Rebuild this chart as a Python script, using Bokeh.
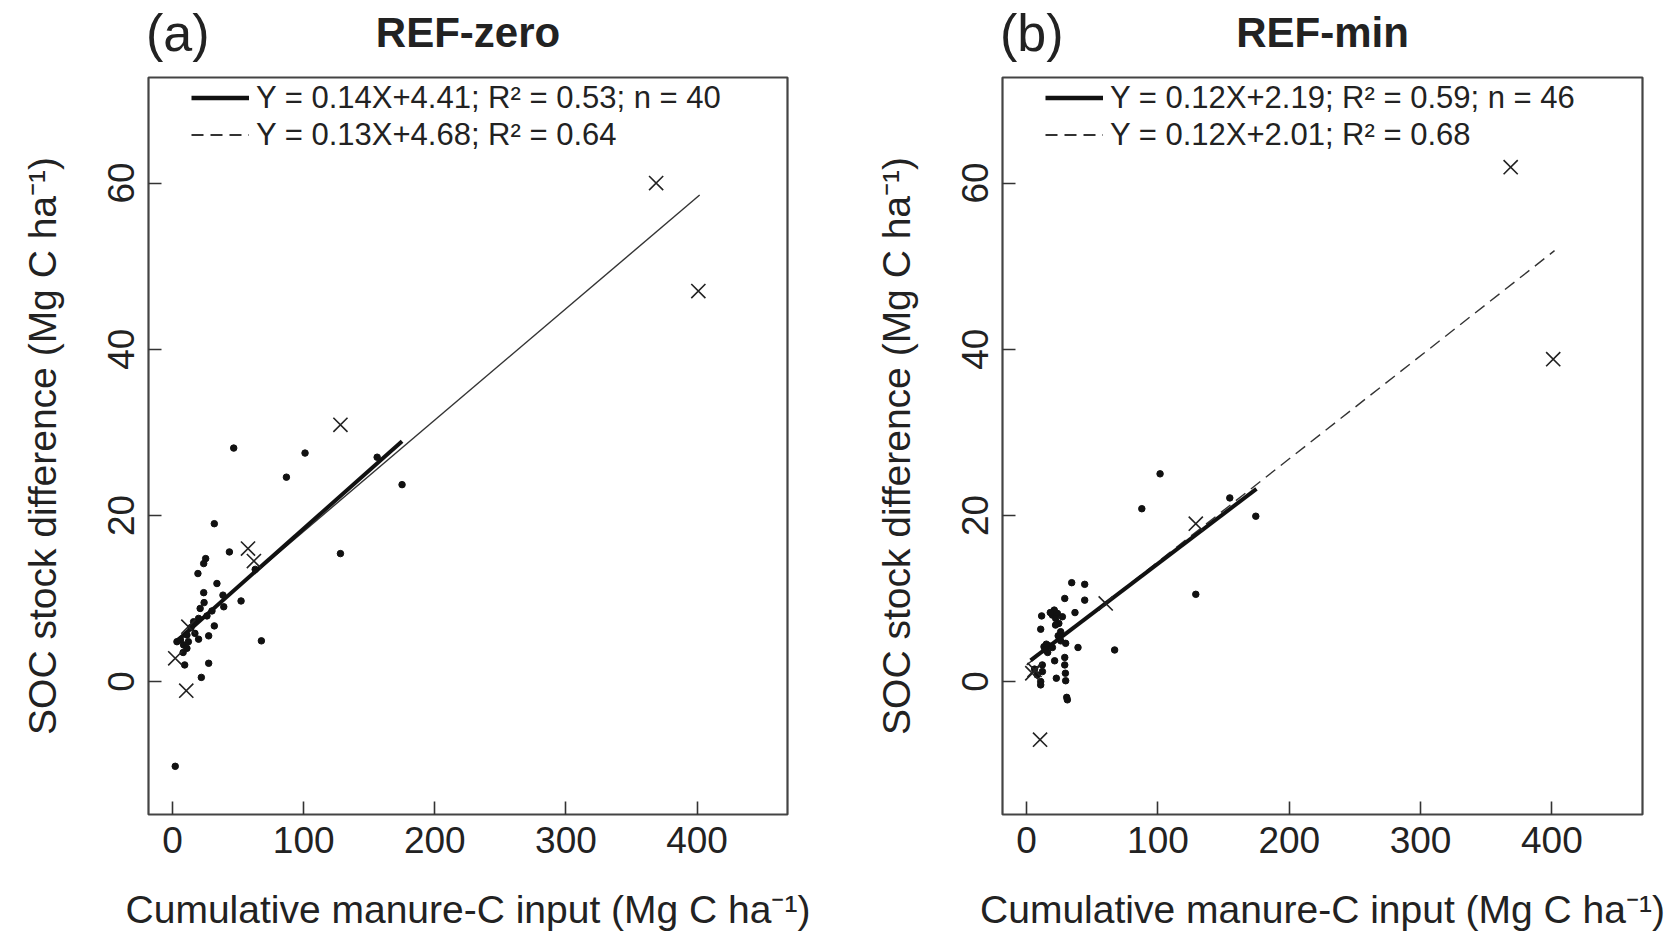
import numpy as np
from bokeh.plotting import figure
from bokeh.layouts import row, column
from bokeh.models import Range1d, Legend, LegendItem, FixedTicker
from bokeh.core.properties import value
from bokeh.embed import file_html
from bokeh.resources import INLINE

# ---------------- data ----------------
# Panel (a) REF-zero
a_dot_x = [46.6, 101, 86.8, 175, 156, 31.8, 43.3, 128, 25.2, 23.7, 19.3, 33.8, 23.7, 38.4,
           52.2, 39, 21, 19.8, 26.2, 31.8, 27.5, 19.8, 10.9, 3.3, 8.4, 10.9, 9.2, 27.5,
           21.9, 67.7, 2, 14, 16, 12, 6, 17, 63, 24, 30, 8]
a_dot_y = [28.1, 27.5, 24.6, 23.7, 27.0, 19.0, 15.6, 15.4, 14.8, 14.2, 13.0, 11.8, 10.7, 10.4,
           9.7, 9.0, 8.8, 7.6, 7.9, 6.7, 5.5, 5.1, 5.6, 4.8, 4.4, 4.0, 2.0, 2.2,
           0.5, 4.9, -10.2, 6.5, 7.2, 4.8, 5.0, 5.8, 13.5, 9.5, 8.5, 3.5]
a_cross_x = [128, 57.5, 62, 2, 10.4, 12, 368.8, 401]
a_cross_y = [30.9, 16.0, 14.5, 2.8, -1.1, 6.6, 60.0, 47.0]

# Panel (b) REF-min
b_dot_x = [101.6, 87.7, 174.5, 154.7, 128.8, 34.3, 44.2, 29, 44.2, 11.4, 19.6, 23.4, 22.1, 27.2,
           36.8, 10.7, 25.9, 29.7, 39.1, 67, 13.2, 17, 19.6, 21.3, 29, 29, 11.9, 10.7,
           10.7, 22.6, 29.7, 30.5, 8, 21, 24.5, 15, 29.5, 31, 24, 16, 12, 22, 6, 18, 26, 14]
b_dot_y = [25.0, 20.8, 19.9, 22.1, 10.5, 11.9, 11.7, 10.0, 9.8, 7.9, 8.0, 8.2, 7.6, 7.8,
           8.3, 6.3, 6.0, 4.6, 4.1, 3.8, 4.2, 4.3, 4.1, 2.5, 2.9, 2.0, 2.0, 0.0,
           -0.4, 0.4, 0.1, -1.9, 0.8, 8.6, 7.0, 4.5, 1.0, -2.2, 5.5, 3.5, 1.2, 6.8, 1.5, 8.3, 4.9, 3.8]
b_cross_x = [128.8, 60.2, 4.3, 6, 10.2, 368.6, 401]
b_cross_y = [19.0, 9.4, 1.0, 1.4, -7.0, 61.9, 38.8]

# Regression lines: slope, intercept, x-span
a_solid = dict(slope=0.14, icpt=4.41, x=[3, 175])
a_long = dict(slope=0.134, icpt=4.68, x=[2, 402])
b_solid = dict(slope=0.12, icpt=2.19, x=[3, 175])
b_long = dict(slope=0.124, icpt=2.01, x=[0, 402])

a_leg = ["Y = 0.14X+4.41; R\u00b2 = 0.53; n = 40", "Y = 0.13X+4.68; R\u00b2 = 0.64"]
b_leg = ["Y = 0.12X+2.19; R\u00b2 = 0.59; n = 46", "Y = 0.12X+2.01; R\u00b2 = 0.68"]
tags = ["(a)", "(b)"]
titles = ["REF-zero", "REF-min"]

x_ticks = [0, 100, 200, 300, 400]
y_ticks = [0, 20, 40, 60]

FONT = "Liberation Sans"
TXT = "#222222"
TH = 73          # height of the title strip
H = 860          # height of each chart
TOP = 4
FH = 739


def title_strip(tag, title, width, frame_left, frame_w):
    t = figure(width=width, height=TH, output_backend="svg", toolbar_location=None,
               x_range=Range1d(0, width), y_range=Range1d(0, TH),
               min_border=0, min_border_left=0, min_border_right=0,
               min_border_top=0, min_border_bottom=0)
    t.axis.visible = False
    t.grid.visible = False
    t.outline_line_color = None
    t.background_fill_color = "white"
    t.border_fill_color = "white"
    t.text(x=[frame_left - 2.5], y=[TH - 32], text=[tag], text_font=value(FONT),
           text_font_size="52px", text_color=TXT, text_baseline="middle", text_align="left")
    t.text(x=[frame_left + frame_w / 2], y=[TH - 32], text=[title], text_font=value(FONT),
           text_font_size="42px", text_font_style="bold", text_color=TXT,
           text_baseline="middle", text_align="center")
    return t


def panel(dx, dy, cx, cy, solid, long_, long_dash, leg, bl, width, fw):
    p = figure(width=width, height=H, output_backend="svg", toolbar_location=None,
               x_range=Range1d(-18.4, 469), y_range=Range1d(-16.0, 72.7),
               min_border_left=bl, min_border_right=width - bl - fw,
               min_border_top=TOP, min_border_bottom=H - TOP - FH)
    p.grid.visible = False
    p.background_fill_color = "white"
    p.border_fill_color = "white"
    p.outline_line_color = "#444444"
    p.outline_line_width = 2.2

    for ax in (p.xaxis[0], p.yaxis[0]):
        ax.axis_line_color = None
        ax.major_tick_in = 13
        ax.major_tick_out = 0
        ax.minor_tick_line_color = None
        ax.major_tick_line_color = "#333333"
        ax.major_tick_line_width = 1.6
        ax.major_label_text_font = FONT
        ax.major_label_text_font_size = "37px"
        ax.major_label_text_color = TXT
        ax.axis_label_text_font = FONT
        ax.axis_label_text_font_size = "39px"
        ax.axis_label_text_font_style = "normal"
        ax.axis_label_text_color = TXT
    p.xaxis.ticker = FixedTicker(ticks=x_ticks)
    p.yaxis.ticker = FixedTicker(ticks=y_ticks)
    p.yaxis.major_label_orientation = "vertical"
    p.xaxis.major_label_standoff = 12
    p.yaxis.major_label_standoff = 14
    p.xaxis.axis_label_standoff = 32
    p.yaxis.axis_label_standoff = 42
    p.xaxis.axis_label = "Cumulative manure-C input (Mg C ha\u207b\u00b9)"
    p.yaxis.axis_label = "SOC stock difference (Mg C ha\u207b\u00b9)"

    # long (thin) regression line
    lx = np.array(long_["x"], dtype=float)
    p.line(lx, long_["slope"] * lx + long_["icpt"], line_color="#333333",
           line_width=1.4, line_dash=long_dash)
    # short (thick) regression line
    sx = np.array(solid["x"], dtype=float)
    p.line(sx, solid["slope"] * sx + solid["icpt"], line_color="#111111", line_width=4)

    p.scatter(dx, dy, marker="circle", size=6.5, fill_color="#111111", line_color="#111111")
    p.scatter(cx, cy, marker="x", size=20, line_color="#222222", line_width=1.6)

    # legend keys (outside the visible range; they only provide the keys)
    r1 = p.line([-100, -90], [-100, -90], line_color="#111111", line_width=4.5)
    r2 = p.line([-100, -90], [-100, -90], line_color="#333333", line_width=1.8, line_dash="12 7")
    legend = Legend(items=[LegendItem(label=leg[0], renderers=[r1]),
                           LegendItem(label=leg[1], renderers=[r2])],
                    location=(43, 661), margin=0, padding=0, spacing=0,
                    glyph_width=58, glyph_height=37, label_height=37,
                    label_standoff=7, border_line_color=None,
                    background_fill_alpha=0,
                    label_text_font=FONT, label_text_font_size="31px",
                    label_text_color=TXT)
    p.add_layout(legend, "center")
    return p


WA, WB = 841, 825
ta = title_strip(tags[0], titles[0], WA, 148, 639)
tb = title_strip(tags[1], titles[1], WB, 161, 640)
pa = panel(a_dot_x, a_dot_y, a_cross_x, a_cross_y,
           a_solid, a_long, "solid", a_leg, bl=148, width=WA, fw=639)
pb = panel(b_dot_x, b_dot_y, b_cross_x, b_cross_y,
           b_solid, b_long, "12 7", b_leg, bl=161, width=WB, fw=640)

layout = column(row(ta, tb, spacing=0), row(pa, pb, spacing=0), spacing=0)
open("out.html", "w").write(file_html(layout, INLINE))
